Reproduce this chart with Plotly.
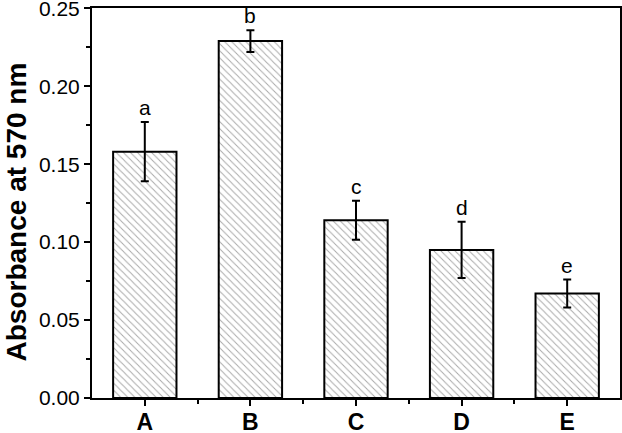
import plotly.graph_objects as go

categories = ["A", "B", "C", "D", "E"]
absorbance = [0.158, 0.229, 0.114, 0.095, 0.067]
errors = [0.019, 0.007, 0.0125, 0.018, 0.009]
letters = ["a", "b", "c", "d", "e"]
y_ticks = [0.00, 0.05, 0.10, 0.15, 0.20, 0.25]
y_title = "Absorbance at 570 nm"

x_pos = list(range(len(categories)))

fig = go.Figure()
fig.add_trace(go.Bar(
    x=x_pos, y=absorbance, width=0.6,
    marker=dict(color="white", line=dict(color="black", width=2),
                pattern=dict(shape="\\", fgcolor="#555555", bgcolor="white",
                             size=5, solidity=0.2)),
    error_y=dict(type="data", array=errors, visible=True,
                 color="black", thickness=2, width=4),
    showlegend=False,
))

for xi, v, e, lab in zip(x_pos, absorbance, errors, letters):
    fig.add_annotation(x=xi, y=v + e, text=lab, showarrow=False,
                       yanchor="bottom", yshift=1,
                       font=dict(size=21, color="black",
                                 family="Liberation Sans, Arial"))

# y-axis title placed as rotated text to match the reference position
fig.add_annotation(xref="paper", yref="paper", x=-0.143, y=0.477,
                   text=y_title, textangle=-90, showarrow=False,
                   xanchor="center", yanchor="middle",
                   font=dict(size=28, family="Liberation Sans, Arial",
                             color="black", weight="bold"))

fig.update_layout(
    width=622, height=433,
    margin=dict(l=92, r=2, t=8, b=35),
    plot_bgcolor="white", paper_bgcolor="white",
    font=dict(family="Liberation Sans, Arial", color="black"),
)
fig.update_xaxes(
    range=[-0.5, 4.5], tickmode="array", tickvals=x_pos, ticktext=categories,
    tickfont=dict(size=23, family="Liberation Sans, Arial", color="black",
                  weight="bold"),
    ticklabelstandoff=-4,
    showline=True, linecolor="black", linewidth=2, mirror=True,
    ticks="outside", ticklen=6, tickwidth=2, tickcolor="black",
    minor=dict(tickvals=[0.5, 1.5, 2.5, 3.5], ticks="outside", ticklen=4,
               tickwidth=2, tickcolor="black"),
    showgrid=False, zeroline=False, automargin=False,
)
fig.update_yaxes(
    range=[0, 0.2502], tickmode="array", tickvals=y_ticks,
    ticktext=[f"{t:.2f}" for t in y_ticks],
    tickfont=dict(size=21, family="Liberation Sans, Arial", color="black"),
    ticklabeloverflow="allow",
    showline=True, linecolor="black", linewidth=2, mirror=True,
    ticks="outside", ticklen=6, tickwidth=2, tickcolor="black",
    minor=dict(dtick=0.025, tick0=0, ticks="outside", ticklen=4,
               tickwidth=2, tickcolor="black"),
    showgrid=False, zeroline=False, automargin=False,
)

fig.write_html("out.html", config={"displayModeBar": False},
               post_script="document.body.style.margin='0px';")
